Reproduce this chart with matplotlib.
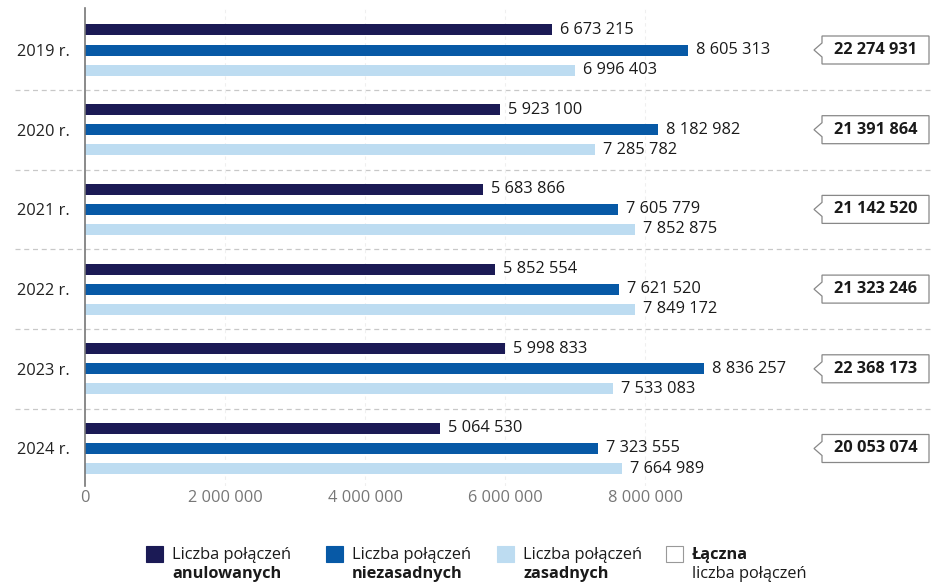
import numpy as np
import matplotlib.pyplot as plt
from matplotlib.patches import Polygon, Rectangle
import matplotlib.transforms as mtransforms

plt.rcParams['font.family'] = ['Open Sans', 'DejaVu Sans']

years = ["2019 r.", "2020 r.", "2021 r.", "2022 r.", "2023 r.", "2024 r."]
anulowane = [6673215, 5923100, 5683866, 5852554, 5998833, 5064530]
niezasadne = [8605313, 8182982, 7605779, 7621520, 8836257, 7323555]
zasadne = [6996403, 7285782, 7852875, 7849172, 7533083, 7664989]
lacznie = [22274931, 21391864, 21142520, 21323246, 22368173, 20053074]
xticks = [0, 2000000, 4000000, 6000000, 8000000]

series = [anulowane, niezasadne, zasadne]
colors = ["#1b1a55", "#0759a6", "#bddcf1"]
legend_lines = [("Liczba połączeń", "anulowanych"),
                ("Liczba połączeń", "niezasadnych"),
                ("Liczba połączeń", "zasadnych")]

W, H = 932, 584
fs = 11.8
fig = plt.figure(figsize=(W / 100, H / 100), dpi=100)
# axes spans from the zero line (x=85px) to the right edge
ax = fig.add_axes([85 / W, 1 - 486 / H, 1 - 85 / W, (486 - 8) / H])

def fmt(v):
    return f"{v:,}".replace(",", " ")

px = 70.04e-6  # pixels per unit
xmax = (W - 85) / px
unit = 79.7  # pixels per group
ax.set_xlim(0, xmax)
ax.set_ylim((486 - 50) / unit, (8 - 50) / unit)

y = np.arange(len(years))
offsets = [-0.251, 0, 0.251]
bh = 11 / unit
for s, c, off in zip(series, colors, offsets):
    ax.barh(y + off, s, height=bh, color=c, zorder=3)
    for yi, v in zip(y, s):
        ax.text(v + 8 / px, yi + off, fmt(v), va="center", ha="left",
                fontsize=fs, color="#1a1a1a", zorder=4)

# separators between groups
trans = mtransforms.blended_transform_factory(ax.transAxes, ax.transData)
for g in range(len(years) - 1):
    ax.plot([(15 - 85) / 847, 1], [g + 0.5, g + 0.5], transform=trans,
            color="#c8c8c8", lw=0.9, ls=(0, (4, 3)), clip_on=False, zorder=1)

# callouts with total
for yi, tot in zip(y, lacznie):
    x0 = 822 / px - 85 / px
    x1 = 929 / px - 85 / px
    tip = 814 / px - 85 / px
    h = 14 / unit
    n = 7 / unit
    pts = [(x0, yi - h), (x1, yi - h), (x1, yi + h), (x0, yi + h),
           (x0, yi + n), (tip, yi), (x0, yi - n)]
    ax.add_patch(Polygon(pts, closed=True, facecolor="white",
                         edgecolor="#888888", lw=0.9, zorder=3))
    ax.text((x0 + x1) / 2, yi, fmt(tot), ha="center", va="center",
            fontsize=fs, fontweight="bold", color="#1a1a1a", zorder=4)

ax.set_yticks(y)
ax.set_yticklabels(years, fontsize=fs, color="#222222")
ax.set_xticks(xticks)
ax.set_xticklabels([fmt(t) for t in xticks], fontsize=fs, color="#777777")
ax.tick_params(length=0)
ax.tick_params(axis="x", pad=3)
ax.tick_params(axis="y", pad=11)
ax.grid(axis="x", color="#efefef", lw=0.8, ls=(0, (3, 3)), zorder=0)
for side in ["top", "right", "bottom"]:
    ax.spines[side].set_visible(False)
ax.spines["left"].set_color("#777777")
ax.spines["left"].set_linewidth(1.2)
ax.spines["left"].set_zorder(5)

# legend
lx = [146, 326, 497, 666]
for i in range(4):
    x = lx[i]
    if i < 3:
        fc, ec = colors[i], colors[i]
        l1, l2 = legend_lines[i]
        w1, w2 = "normal", "bold"
    else:
        fc, ec = "white", "#999999"
        l1, l2 = "Łączna", "liczba połączeń"
        w1, w2 = "bold", "normal"
    fig.add_artist(Rectangle((x / W, 1 - 562 / H), 17 / W, 16 / H,
                             transform=fig.transFigure, facecolor=fc,
                             edgecolor=ec, lw=0.8))
    fig.text((x + 26) / W, 1 - 555 / H, l1, fontsize=fs, fontweight=w1,
             color="#1a1a1a", va="center", ha="left")
    fig.text((x + 26) / W, 1 - 574 / H, l2, fontsize=fs, fontweight=w2,
             color="#1a1a1a", va="center", ha="left")

plt.savefig("out.png", dpi=100)
